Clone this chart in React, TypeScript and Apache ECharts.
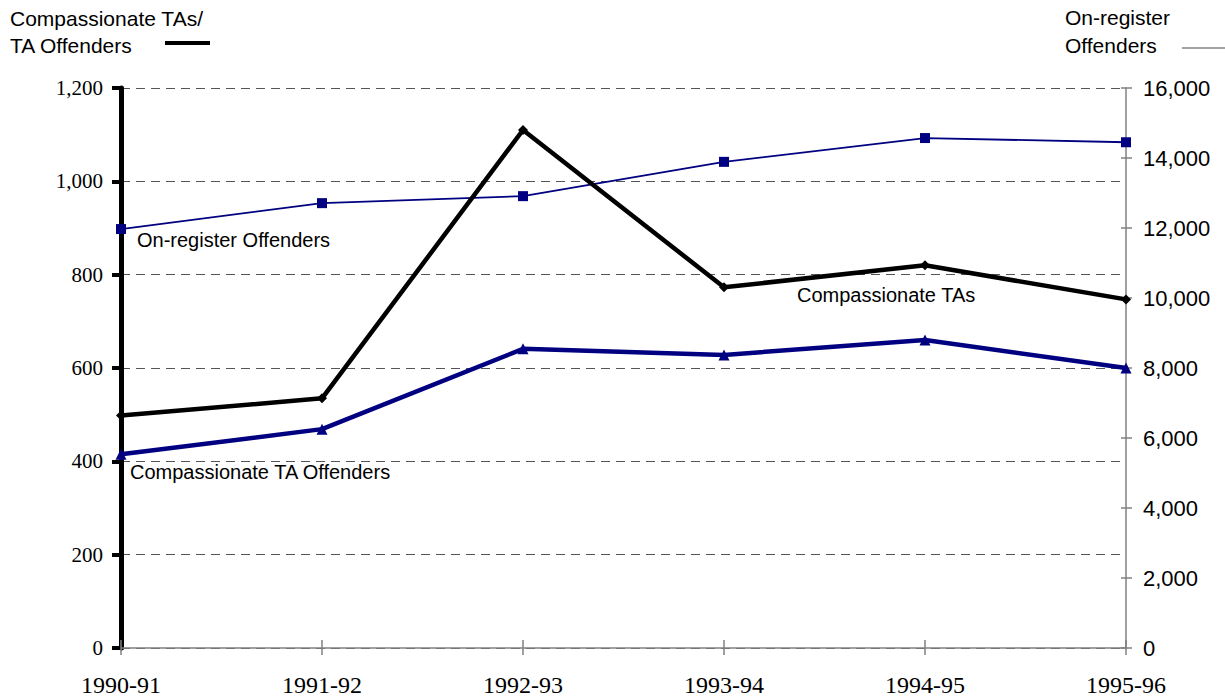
import React, { useEffect, useRef } from "react";
import * as echarts from "echarts";

const categories = ["1990-91", "1991-92", "1992-93", "1993-94", "1994-95", "1995-96"];
const compassionateTAs = [498, 535, 1110, 773, 820, 747];
const taOffenders = [415, 469, 641, 628, 660, 600];
const onRegisterOffenders = [11970, 12710, 12910, 13890, 14570, 14450];
const leftTicks = { min: 0, max: 1200, interval: 200 };
const rightTicks = { min: 0, max: 16000, interval: 2000 };

const SANS = "'Liberation Sans', Arial, sans-serif";
const SERIF = "'Liberation Serif', 'Times New Roman', serif";
const NAVY = "#000080";

const fmt = (v: number) => v.toLocaleString("en-US");

export default function App() {
  const ref = useRef<HTMLDivElement>(null);
  useEffect(() => {
    if (!ref.current) return;
    const chart = echarts.init(ref.current, null, { renderer: "svg" });
    chart.setOption({
      animation: false,
      backgroundColor: "#ffffff",
      grid: { left: 121, right: 99, top: 88, bottom: 52, containLabel: false },
      xAxis: [
        {
          type: "category",
          data: categories,
          boundaryGap: false,
          axisLine: { lineStyle: { color: "#808080", width: 1.5 } },
          axisTick: { show: true, length: 7, lineStyle: { color: "#808080", width: 1.5 } },
          axisLabel: { fontFamily: SERIF, fontSize: 24, color: "#000", margin: 25, hideOverlap: false, interval: 0 },
          splitLine: { show: false },
        },
        {
          type: "category",
          data: categories,
          boundaryGap: false,
          position: "bottom",
          axisLine: { show: false },
          axisTick: { show: true, inside: true, length: 8, lineStyle: { color: "#808080", width: 1.5 } },
          axisLabel: { show: false },
          splitLine: { show: false },
        },
      ],
      yAxis: [
        {
          type: "value",
          position: "left",
          min: leftTicks.min,
          max: leftTicks.max,
          interval: leftTicks.interval,
          axisLine: { show: true, lineStyle: { color: "#000", width: 5 } },
          axisTick: { show: true, length: 9, lineStyle: { color: "#000", width: 4 } },
          axisLabel: { fontFamily: SERIF, fontSize: 21, color: "#000", margin: 18, formatter: fmt },
          splitLine: { show: true, lineStyle: { color: "#555", type: [9, 6], width: 1 } },
        },
        {
          type: "value",
          position: "right",
          min: rightTicks.min,
          max: rightTicks.max,
          interval: rightTicks.interval,
          axisLine: { show: true, lineStyle: { color: "#808080", width: 1.5 } },
          axisTick: { show: true, length: 6, lineStyle: { color: "#808080", width: 1.5 } },
          axisLabel: { fontFamily: SANS, fontSize: 22, color: "#000", margin: 17, formatter: fmt },
          splitLine: { show: false },
        },
        {
          type: "value",
          position: "right",
          min: rightTicks.min,
          max: rightTicks.max,
          interval: rightTicks.interval,
          axisLine: { show: false },
          axisTick: { show: true, inside: true, length: 5, lineStyle: { color: "#808080", width: 1.5 } },
          axisLabel: { show: false },
          splitLine: { show: false },
        },
      ],
      series: [
        {
          name: "On-register Offenders",
          type: "line",
          yAxisIndex: 1,
          data: onRegisterOffenders,
          symbol: "rect",
          symbolSize: 10,
          lineStyle: { color: NAVY, width: 1.8 },
          itemStyle: { color: NAVY },
          z: 3,
        },
        {
          name: "Compassionate TA Offenders",
          type: "line",
          yAxisIndex: 0,
          data: taOffenders,
          symbol: "triangle",
          symbolSize: 11,
          lineStyle: { color: NAVY, width: 4.5 },
          itemStyle: { color: NAVY },
          z: 4,
        },
        {
          name: "Compassionate TAs",
          type: "line",
          yAxisIndex: 0,
          data: compassionateTAs,
          symbol: "diamond",
          symbolSize: 10,
          lineStyle: { color: "#000", width: 4.5 },
          itemStyle: { color: "#000" },
          z: 5,
        },
      ],
      graphic: [
        { type: "text", left: 10, top: 8, style: { text: "Compassionate TAs/", font: `21px ${SANS}`, fill: "#000" } },
        { type: "text", left: 10, top: 35, style: { text: "TA Offenders", font: `21px ${SANS}`, fill: "#000" } },
        { type: "line", shape: { x1: 165, y1: 43, x2: 210, y2: 43 }, style: { stroke: "#000", lineWidth: 4 } },
        { type: "text", left: 1065, top: 7, style: { text: "On-register", font: `21px ${SANS}`, fill: "#000" } },
        { type: "text", left: 1065, top: 35, style: { text: "Offenders", font: `21px ${SANS}`, fill: "#000" } },
        { type: "line", shape: { x1: 1182, y1: 48, x2: 1225, y2: 48 }, style: { stroke: "#444", lineWidth: 1 } },
        { type: "text", left: 137, top: 230, style: { text: "On-register Offenders", font: `20px ${SANS}`, fill: "#000" } },
        { type: "text", left: 797, top: 285, style: { text: "Compassionate TAs", font: `20px ${SANS}`, fill: "#000" } },
        { type: "text", left: 130, top: 462, style: { text: "Compassionate TA Offenders", font: `20px ${SANS}`, fill: "#000" } },
      ],
    });
    return () => chart.dispose();
  }, []);
  return <div ref={ref} style={{ position: "absolute", left: 0, top: 0, width: 1225, height: 700 }} />;
}
